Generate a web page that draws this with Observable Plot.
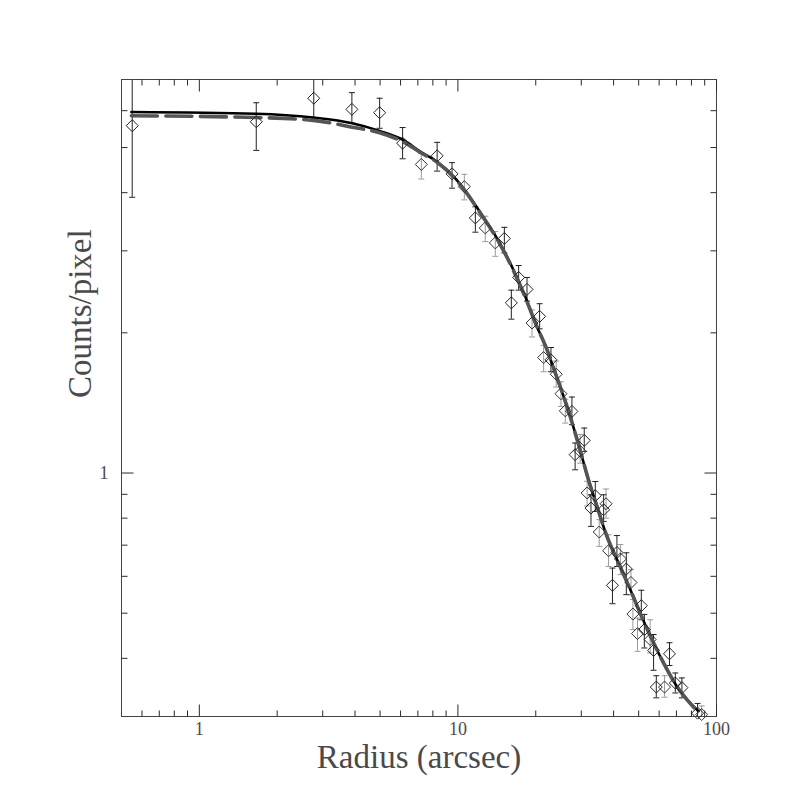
<!DOCTYPE html>
<html>
<head>
<meta charset="utf-8">
<script src="https://cdn.jsdelivr.net/npm/d3@7"></script>
<script src="https://cdn.jsdelivr.net/npm/@observablehq/plot@0.6"></script>
<style>
  html, body { margin: 0; padding: 0; background: #fff; }
</style>
</head>
<body>
<div id="chart"></div>
<script>
// ---- Data ----
// Points with dark error bars
const radiusA = [0.55, 1.66, 2.77, 3.89, 4.98, 6.11, 8.31, 9.49, 11.68, 15.12, 16.09, 17.17, 18.50, 20.70, 22.9, 27.6, 28.4, 30.8, 33.98, 32.7, 36.6, 41.2, 44.8, 39.6, 51.2, 52.6, 57.1, 65.8, 58.5, 69.3, 73.5, 84.5];
const countsA = [5.57, 5.68, 6.38, 6.04, 5.94, 5.11, 4.80, 4.39, 3.53, 3.19, 2.32, 2.63, 2.48, 2.17, 1.75, 1.356, 1.095, 1.175, 0.894, 0.841, 0.834, 0.675, 0.622, 0.574, 0.519, 0.461, 0.416, 0.409, 0.347, 0.354, 0.346, 0.305];
const lowA    = [3.91, 4.93, 5.78, 5.64, 5.50, 4.73, 4.45, 4.09, 3.29, 2.97, 2.14, 2.47, 2.34, 2.04, 1.65, 1.27, 1.016, 1.113, 0.827, 0.768, 0.787, 0.630, 0.548, 0.524, 0.484, 0.421, 0.377, 0.386, 0.329, 0.337, 0.329, 0.290];
const highA   = [7.30, 6.24, 7.10, 6.56, 6.38, 5.52, 5.13, 4.64, 3.73, 3.37, 2.47, 2.79, 2.63, 2.31, 1.86, 1.456, 1.16, 1.249, 0.959, 0.898, 0.898, 0.734, 0.674, 0.625, 0.560, 0.497, 0.450, 0.432, 0.367, 0.372, 0.363, 0.320];

// Points with light error bars
const radiusB = [7.22, 10.59, 12.76, 13.95, 19.34, 21.45, 24.0, 25.04, 26.02, 29.7, 31.6, 37.4, 35.2, 38.25, 42.5, 46.7, 47.5, 49.5, 55.4, 62.96, 87.6];
const countsB = [4.60, 4.12, 3.36, 3.12, 2.10, 1.77, 1.63, 1.48, 1.36, 1.113, 0.906, 0.859, 0.747, 0.681, 0.654, 0.582, 0.498, 0.452, 0.439, 0.347, 0.303];
const lowB    = [4.28, 3.86, 3.14, 2.92, 1.96, 1.65, 1.53, 1.39, 1.28, 1.05, 0.85, 0.80, 0.696, 0.630, 0.605, 0.548, 0.461, 0.414, 0.411, 0.330, 0.290];
const highB   = [4.86, 4.38, 3.56, 3.30, 2.24, 1.88, 1.74, 1.57, 1.44, 1.21, 0.96, 0.924, 0.794, 0.737, 0.702, 0.620, 0.535, 0.488, 0.484, 0.367, 0.316];

// Solid black model curve
const modelSolidR = [0.546, 1.65, 2.76, 3.90, 4.98, 6.15, 7.16, 8.31, 9.63, 10.85, 12.03, 14.17, 15.95, 18.23, 19.93, 22.11, 23.80, 26.80, 29.29, 32.02, 34.5, 37.7, 41.8, 46.4, 50.7, 56.3, 62.4, 70.3, 76.9, 85.2];
const modelSolidY = [5.96, 5.91, 5.80, 5.64, 5.43, 5.19, 4.90, 4.66, 4.33, 3.99, 3.67, 3.19, 2.82, 2.39, 2.10, 1.84, 1.64, 1.356, 1.15, 0.965, 0.848, 0.731, 0.641, 0.562, 0.500, 0.439, 0.391, 0.348, 0.326, 0.308];

// Dashed grey model curve
const modelDashR = [0.546, 1.65, 2.76, 3.90, 4.98, 6.15, 7.16, 8.31, 9.63, 10.85, 12.03, 14.17, 15.95, 18.23, 19.93, 22.11, 23.80, 26.80, 29.29, 32.02, 34.5, 37.7, 41.8, 46.4, 50.7, 56.3, 62.4, 70.3, 76.9, 85.2];
const modelDashY = [5.85, 5.80, 5.72, 5.53, 5.38, 5.14, 4.88, 4.65, 4.32, 3.98, 3.66, 3.18, 2.81, 2.38, 2.10, 1.84, 1.64, 1.356, 1.15, 0.965, 0.848, 0.731, 0.641, 0.562, 0.500, 0.439, 0.391, 0.348, 0.326, 0.306];

// Ticks and labels
const xMajorTicks = [1, 10, 100];
const xMinorTicks = [0.6, 0.7, 0.8, 0.9, 2, 3, 4, 5, 6, 7, 8, 9, 20, 30, 40, 50, 60, 70, 80, 90];
const xTickLabels = ["1", "10", "100"];
const yMajorTicks = [1];
const yMinorTicks = [0.4, 0.5, 0.6, 0.7, 0.8, 0.9, 2, 3, 4, 5, 6];
const yTickLabels = ["1"];
const xTitle = "Radius (arcsec)";
const yTitle = "Counts/pixel";

// ---- Tables built from the arrays ----
const setA = radiusA.map((r, i) => ({r, c: countsA[i], lo: lowA[i], hi: highA[i]}));
const setB = radiusB.map((r, i) => ({r, c: countsB[i], lo: lowB[i], hi: highB[i]}));
const solid = modelSolidR.map((r, i) => ({r, c: modelSolidY[i]}));
const dashed = modelDashR.map((r, i) => ({r, c: modelDashY[i]}));
const xLabelRows = xTickLabels.map((t, i) => ({v: xMajorTicks[i], t}));
const yLabelRows = yTickLabels.map((t, i) => ({v: yMajorTicks[i], t}));

// ---- Custom symbols (inward ticks, error-bar caps, open diamonds) ----
const lineSym = (dx, dy) => ({draw(ctx) { ctx.moveTo(0, 0); ctx.lineTo(dx, dy); }});
const capSym = {draw(ctx) { ctx.moveTo(-3, 0); ctx.lineTo(3, 0); }};
const diamondSym = {draw(ctx) { const h = 6; ctx.moveTo(0, -h); ctx.lineTo(h, 0); ctx.lineTo(0, h); ctx.lineTo(-h, 0); ctx.closePath(); }};

const axisColor = "#2a2a2a";
const textColor = "#4a4a4a";

function ticks(values, anchor, symbol) {
  const o = {frameAnchor: anchor, symbol, stroke: axisColor, strokeWidth: 1, fill: "none"};
  if (anchor === "top" || anchor === "bottom") return Plot.dot(values, {...o, x: d => d});
  return Plot.dot(values, {...o, y: d => d});
}

function errorMarks(data, color) {
  return [
    Plot.ruleX(data, {x: "r", y1: "lo", y2: "hi", stroke: color, strokeWidth: 1, clip: true}),
    Plot.dot(data, {x: "r", y: "hi", symbol: capSym, stroke: color, strokeWidth: 1, fill: "none", clip: true}),
    Plot.dot(data, {x: "r", y: "lo", symbol: capSym, stroke: color, strokeWidth: 1, fill: "none", clip: true})
  ];
}

const chart = Plot.plot({
  width: 797,
  height: 797,
  marginLeft: 121,
  marginRight: 81,
  marginTop: 79,
  marginBottom: 81,
  style: {fontFamily: "'Liberation Serif', 'DejaVu Serif', serif", background: "#fff"},
  x: {type: "log", domain: [0.5, 100], axis: null},
  y: {type: "log", domain: [0.3, 7], axis: null},
  marks: [
    // error bars
    ...errorMarks(setB, "#9a9a9a"),
    ...errorMarks(setA, "#222"),
    // model curves
    Plot.line(solid, {x: "r", y: "c", stroke: "#000", strokeWidth: 2.6, curve: "monotone-x", clip: true}),
    Plot.line(dashed, {x: "r", y: "c", stroke: "#555", strokeWidth: 3.6, strokeDasharray: "26,8.5", curve: "monotone-x", clip: true}),
    // data points (open diamonds)
    Plot.dot(setB, {x: "r", y: "c", symbol: diamondSym, stroke: "#333", strokeWidth: 1, fill: "none"}),
    Plot.dot(setA, {x: "r", y: "c", symbol: diamondSym, stroke: "#222", strokeWidth: 1, fill: "none"}),
    // frame
    Plot.frame({stroke: "#444", strokeWidth: 1}),
    // inward ticks on all four sides
    ticks(xMajorTicks, "bottom", lineSym(0, -12)),
    ticks(xMinorTicks, "bottom", lineSym(0, -6)),
    ticks(xMajorTicks, "top", lineSym(0, 12)),
    ticks(xMinorTicks, "top", lineSym(0, 6)),
    ticks(yMajorTicks, "left", lineSym(12, 0)),
    ticks(yMinorTicks, "left", lineSym(6, 0)),
    ticks(yMajorTicks, "right", lineSym(-12, 0)),
    ticks(yMinorTicks, "right", lineSym(-6, 0)),
    // tick labels
    Plot.text(xLabelRows, {x: "v", text: "t", frameAnchor: "bottom", dy: 18, fontSize: 18, fill: textColor}),
    Plot.text(yLabelRows, {y: "v", text: "t", frameAnchor: "left", dx: -13, textAnchor: "end", fontSize: 18, fill: textColor}),
    // axis titles
    Plot.text([xTitle], {text: d => d, frameAnchor: "bottom", dy: 51, fontSize: 33, fill: textColor}),
    Plot.text([yTitle], {text: d => d, frameAnchor: "left", dx: -41, rotate: -90, fontSize: 33, fill: textColor})
  ]
});

document.getElementById("chart").appendChild(chart);
</script>
</body>
</html>
